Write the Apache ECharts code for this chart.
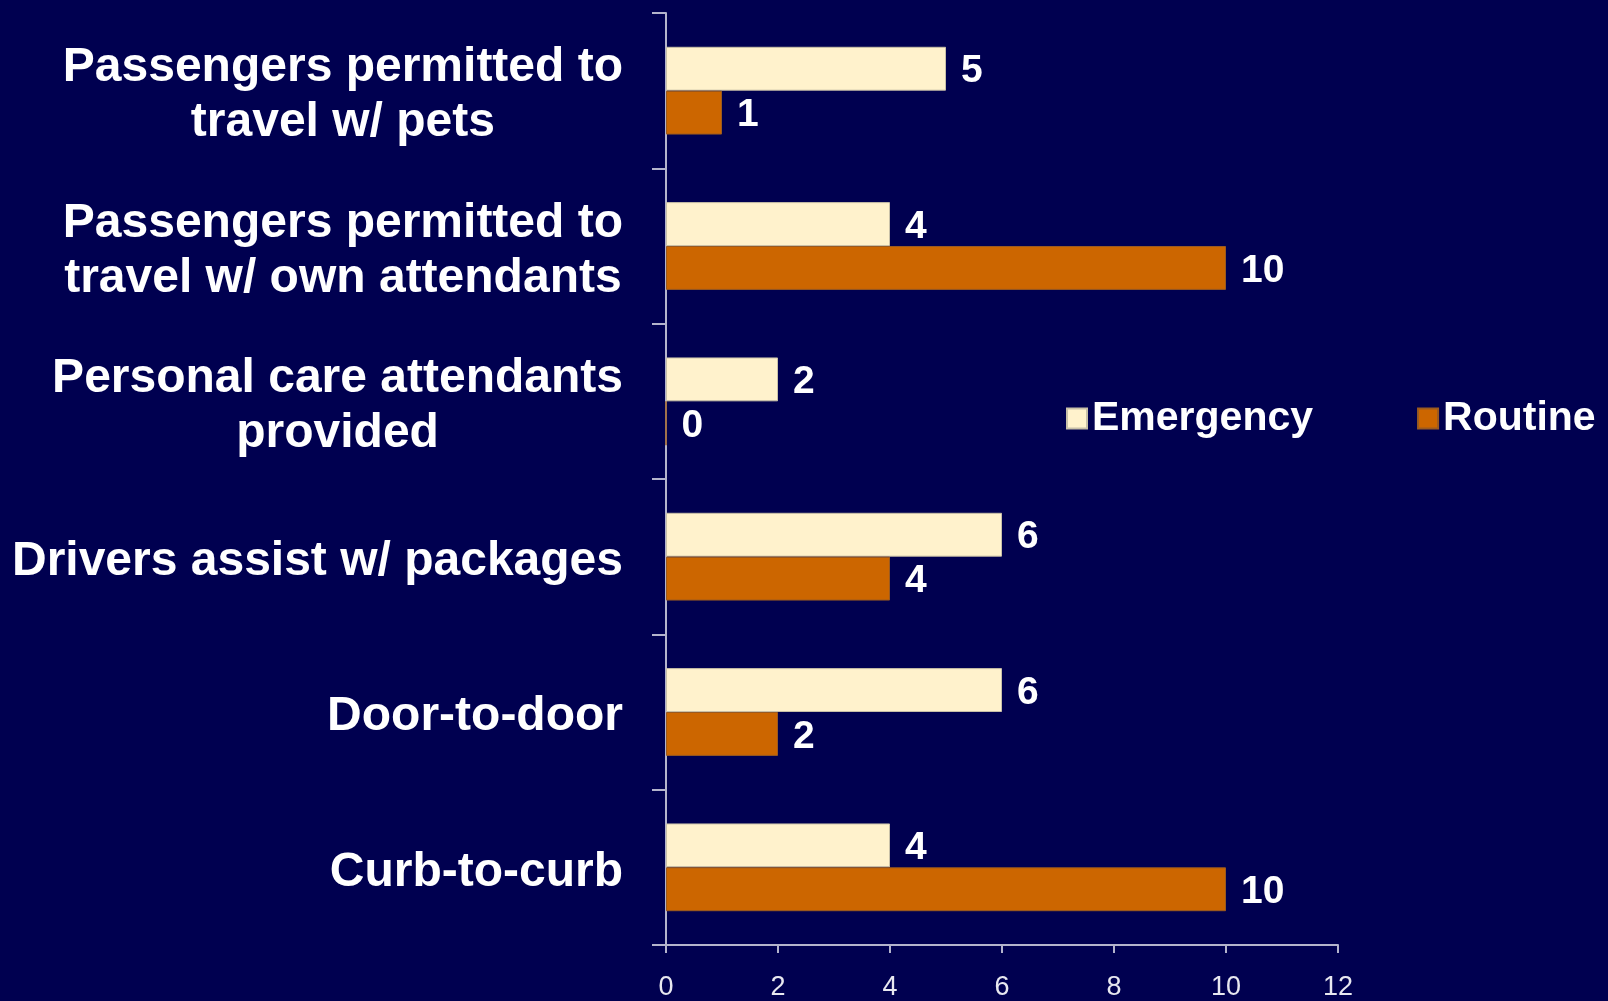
<!DOCTYPE html>
<html>
<head>
<meta charset="utf-8">
<script src="https://cdn.jsdelivr.net/npm/echarts@6/dist/echarts.min.js"></script>
<style>
html,body{margin:0;padding:0;background:#000050;}
#chart{width:1608px;height:1001px;}
</style>
</head>
<body>
<div id="chart"></div>
<script>
// Categories listed top to bottom
var categories = [
  "Passengers permitted to\ntravel w/ pets",
  "Passengers permitted to\ntravel w/ own attendants",
  "Personal care attendants\nprovided",
  "Drivers assist w/ packages",
  "Door-to-door",
  "Curb-to-curb"
];
var emergency = [5, 4, 2, 6, 6, 4];
var routine = [1, 10, 0, 4, 2, 10];
var xTicks = [0, 2, 4, 6, 8, 10, 12];

var FONT = "'Liberation Sans', Arial, Helvetica, sans-serif";
var chart = echarts.init(document.getElementById('chart'));
var labelStyle = { show: true, position: 'right', distance: 15, offset: [0, 3], color: '#ffffff', fontSize: 39, fontWeight: 'bold', fontFamily: FONT };
var option = {
  backgroundColor: '#000050',
  animation: false,
  textStyle: { fontFamily: FONT },
  grid: { left: 666, right: 270, top: 13, bottom: 52, containLabel: false },
  legend: {
    data: ['Emergency', 'Routine'],
    left: 1061,
    top: 393,
    itemWidth: 20,
    itemHeight: 20,
    itemGap: 104,
    icon: 'rect',
    textStyle: { color: '#ffffff', fontSize: 41, fontWeight: 'bold', fontFamily: FONT }
  },
  xAxis: {
    type: 'value',
    min: xTicks[0],
    max: xTicks[xTicks.length - 1],
    interval: 2,
    splitLine: { show: false },
    axisLine: { show: true, lineStyle: { color: '#b4b4cc', width: 2 } },
    axisTick: { show: true, length: 8, lineStyle: { color: '#b4b4cc', width: 2 } },
    axisLabel: { color: '#e8e8f0', fontSize: 27, margin: 29, fontFamily: FONT }
  },
  yAxis: {
    type: 'category',
    inverse: true,
    data: categories,
    axisLine: { show: true, lineStyle: { color: '#b4b4cc', width: 2 } },
    axisTick: { show: true, length: 14, lineStyle: { color: '#b4b4cc', width: 2 } },
    axisLabel: {
      margin: 43,
      align: 'right',
      padding: [10, 0, 0, 0],
      formatter: function (v) {
        return v.split('\n').map(function (l) { return '{c|' + l + '}'; }).join('\n');
      },
      rich: {
        c: { align: 'center', color: '#ffffff', fontSize: 48, fontWeight: 'bold', lineHeight: 55, fontFamily: FONT }
      }
    }
  },
  series: [
    {
      name: 'Emergency',
      type: 'bar',
      data: emergency,
      barGap: '0%',
      barCategoryGap: '43.5%',
      itemStyle: { color: '#fff2cc', borderColor: '#c8c0a8', borderWidth: 1 },
      label: labelStyle
    },
    {
      name: 'Routine',
      type: 'bar',
      data: routine,
      barGap: '0%',
      barCategoryGap: '43.5%',
      itemStyle: { color: '#cc6600', borderColor: '#9a5a20', borderWidth: 1 },
      label: labelStyle
    }
  ]
};
chart.setOption(option);
</script>
</body>
</html>
